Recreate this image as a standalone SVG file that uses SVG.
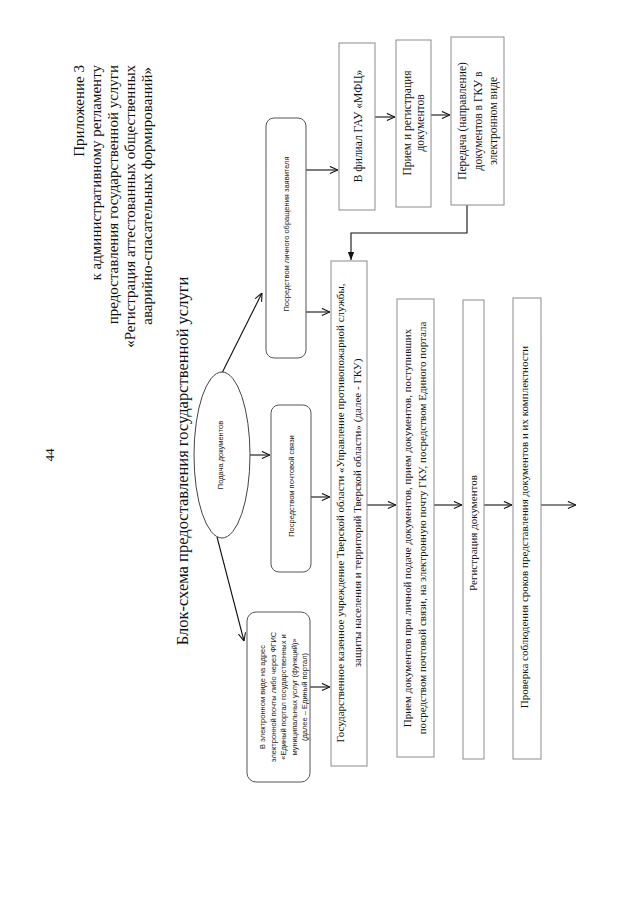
<svg xmlns="http://www.w3.org/2000/svg" width="640" height="899" viewBox="0 0 640 899">
<style>
.serif{font-family:"Liberation Serif","Times New Roman",serif;fill:#111}
.sans{font-family:"Liberation Sans",Arial,sans-serif;fill:#222}
.hdr{font-size:15px}
.ttl{font-size:16.5px}
.box{fill:#fff;stroke:#8c8c8c;stroke-width:1}
.rbox{fill:#fff;stroke:#555;stroke-width:1}
.t11{font-size:11px}
.t115{font-size:11.5px}
.s75{font-size:7.5px}
.conn{fill:none;stroke:#111;stroke-width:1.1}
</style>
<defs>
<marker id="open" viewBox="0 0 10 10" refX="10" refY="5" markerWidth="9" markerHeight="9" markerUnits="userSpaceOnUse" orient="auto">
<path d="M1,1 L10,5 L1,9" fill="none" stroke="#111" stroke-width="1.2"/>
</marker>
<marker id="solid" viewBox="0 0 10 10" refX="10" refY="5" markerWidth="8" markerHeight="8" markerUnits="userSpaceOnUse" orient="auto">
<path d="M0,1 L10,5 L0,9 z" fill="#111"/>
</marker>
</defs>
<rect width="640" height="899" fill="#fff"/>

<g id="header">
<text class="serif hdr" text-anchor="end" transform="translate(84,65) rotate(-90)">Приложение 3</text>
<text class="serif hdr" text-anchor="end" transform="translate(101,65) rotate(-90)">к административному регламенту</text>
<text class="serif hdr" text-anchor="end" transform="translate(118,65) rotate(-90)">предоставления государственной услуги</text>
<text class="serif hdr" text-anchor="end" transform="translate(135,65) rotate(-90)">«Регистрация аттестованных общественных</text>
<text class="serif hdr" text-anchor="end" transform="translate(152,67) rotate(-90)">аварийно-спасательных формирований»</text>
<text class="serif" font-size="13" text-anchor="middle" transform="translate(54,455) rotate(-90)">44</text>
<text class="serif ttl" text-anchor="middle" transform="translate(188,461) rotate(-90)">Блок-схема предоставления государственной услуги</text>
</g>

<g id="connectors">
<line class="conn" x1="222" y1="373" x2="262" y2="293" marker-end="url(#open)"/>
<line class="conn" x1="250" y1="455" x2="270" y2="455" marker-end="url(#open)"/>
<line class="conn" x1="217" y1="537" x2="244" y2="641" marker-end="url(#open)"/>
<line class="conn" x1="306" y1="170" x2="338" y2="170" marker-end="url(#open)"/>
<line class="conn" x1="306" y1="312" x2="330" y2="312" marker-end="url(#open)"/>
<line class="conn" x1="311" y1="497" x2="330" y2="497" marker-end="url(#open)"/>
<line class="conn" x1="310" y1="687" x2="330" y2="687" marker-end="url(#open)"/>
<line class="conn" x1="375" y1="117" x2="395" y2="117" marker-end="url(#open)"/>
<line class="conn" x1="431" y1="115" x2="450" y2="115" marker-end="url(#open)"/>
<polyline class="conn" points="467,205 467,233 351,233 351,260" marker-end="url(#solid)"/>
<line class="conn" x1="367" y1="505" x2="396" y2="505" marker-end="url(#open)"/>
<line class="conn" x1="434" y1="505" x2="462" y2="505" marker-end="url(#open)"/>
<line class="conn" x1="484" y1="505" x2="512" y2="505" marker-end="url(#open)"/>
<line class="conn" x1="541" y1="505" x2="576" y2="505" marker-end="url(#open)"/>
</g>

<g id="n-podacha">
<ellipse cx="222" cy="455" rx="28" ry="83" fill="#fff" stroke="#444" stroke-width="1"/>
<text class="sans s75" text-anchor="middle" transform="translate(223,455) rotate(-90)">Подача документов</text>
</g>

<g id="n-lichno">
<rect class="rbox" x="266" y="118" width="40" height="240" rx="8"/>
<text class="sans s75" text-anchor="middle" transform="translate(288.5,234) rotate(-90)">Посредством личного обращения заявителя</text>
</g>

<g id="n-pochta">
<rect class="rbox" x="271" y="405" width="40" height="167" rx="8"/>
<text class="sans s75" text-anchor="middle" transform="translate(294,486) rotate(-90)">Посредством почтовой связи</text>
</g>

<g id="n-elektron">
<rect class="rbox" x="247" y="612" width="63" height="170" rx="9"/>
<text class="sans s75" text-anchor="middle" transform="translate(265,697) rotate(-90)">В электронном виде на адрес</text>
<text class="sans s75" text-anchor="middle" transform="translate(275.5,697) rotate(-90)">электронной почты либо через ФГИС</text>
<text class="sans s75" text-anchor="middle" transform="translate(286,697) rotate(-90)">«Единый портал государственных и</text>
<text class="sans s75" text-anchor="middle" transform="translate(296.5,697) rotate(-90)">муниципальных услуг (функций)»</text>
<text class="sans s75" text-anchor="middle" transform="translate(307,697) rotate(-90)">(далее – Единый портал)</text>
</g>

<g id="n-mfc">
<rect class="box" x="339" y="43" width="36" height="167"/>
<text class="serif t115" text-anchor="middle" transform="translate(362,126) rotate(-90)">В филиал ГАУ «МФЦ»</text>
</g>

<g id="n-mfc-priem">
<rect class="box" x="396" y="40" width="35" height="167"/>
<text class="serif t115" text-anchor="middle" transform="translate(411,123) rotate(-90)">Прием и регистрация</text>
<text class="serif t115" text-anchor="middle" transform="translate(424,123) rotate(-90)">документов</text>
</g>

<g id="n-mfc-peredacha">
<rect class="box" x="451" y="37" width="53" height="168"/>
<text class="serif t115" text-anchor="middle" transform="translate(466,121) rotate(-90)">Передача (направление)</text>
<text class="serif t115" text-anchor="middle" transform="translate(482,121) rotate(-90)">документов в ГКУ в</text>
<text class="serif t115" text-anchor="middle" transform="translate(497,121) rotate(-90)">электронном виде</text>
</g>

<g id="n-gku">
<rect class="box" x="331" y="261" width="36" height="505"/>
<text class="serif t11" text-anchor="middle" transform="translate(344,513) rotate(-90)">Государственное казенное учреждение Тверской области «Управление противопожарной службы,</text>
<text class="serif t11" text-anchor="middle" transform="translate(361,513) rotate(-90)">защиты населения и территорий Тверской области» (далее - ГКУ)</text>
</g>

<g id="n-priem">
<rect class="box" x="397" y="299" width="37" height="458"/>
<text class="serif t11" text-anchor="middle" transform="translate(411,528) rotate(-90)">Прием документов при личной подаче документов, прием документов, поступивших</text>
<text class="serif t11" text-anchor="middle" transform="translate(426,528) rotate(-90)">посредством почтовой связи, на электронную почту ГКУ, посредством Единого портала</text>
</g>

<g id="n-registr">
<rect class="box" x="463" y="300" width="21" height="459"/>
<text class="serif t11" text-anchor="middle" transform="translate(477,533) rotate(-90)">Регистрация документов</text>
</g>

<g id="n-proverka">
<rect class="box" x="513" y="298" width="28" height="461"/>
<text class="serif t11" text-anchor="middle" transform="translate(528,527) rotate(-90)">Проверка соблюдения сроков представления документов и их комплектности</text>
</g>
</svg>
